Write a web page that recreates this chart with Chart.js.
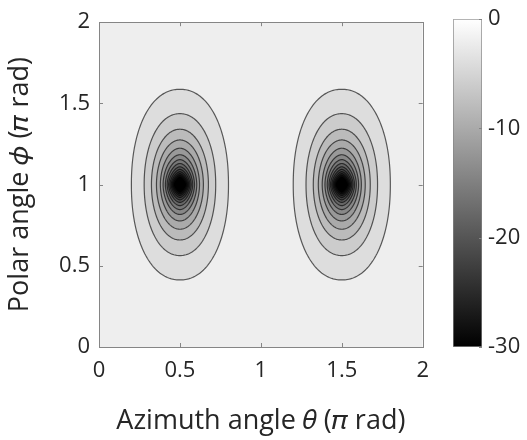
<!DOCTYPE html>
<html>
<head>
<meta charset="utf-8">
<script src="https://cdn.jsdelivr.net/npm/chart.js"></script>
<style>
  html, body { margin: 0; padding: 0; background: #fff; }
  #wrap { position: relative; width: 527px; height: 440px; }
  #main { position: absolute; left: 0; top: 0; }
  #cbar { position: absolute; left: 440px; top: 0; }
</style>
</head>
<body>
<div id="wrap">
  <canvas id="main" width="440" height="440"></canvas>
  <canvas id="cbar" width="87" height="440"></canvas>
</div>
<script>
// axis ticks (units of pi rad)
var thetaTicks = [0, 0.5, 1, 1.5, 2];
var phiTicks = [0, 0.5, 1, 1.5, 2];
var colorTicks = [0, -10, -20, -30];

// the two lobes (minimum positions)
var lobeTheta = [0.5, 1.5];
var lobePhi = 1;

// contour levels (dB) and their half extents
var levels = [-2, -4, -6, -8, -10, -12, -14, -16, -18, -20, -22, -24, -26, -28, -30];
var halfTheta = [0.300, 0.221, 0.176, 0.145, 0.121, 0.104, 0.090, 0.079, 0.070, 0.062, 0.055, 0.049, 0.043, 0.037, 0.030];
var halfPhi = [0.587, 0.437, 0.341, 0.275, 0.224, 0.184, 0.154, 0.130, 0.110, 0.094, 0.080, 0.068, 0.058, 0.048, 0.038];

var FONT = "'Open Sans', 'Noto Sans', 'DejaVu Sans', sans-serif";
var TXT = '#262626';
var FRAME = '#858585';

function grayOf(v) {
  var g = Math.round(255 * Math.max(0, Math.min(1, 1 + v / 30)));
  return 'rgb(' + g + ',' + g + ',' + g + ')';
}

var contourPlugin = {
  id: 'contours',
  beforeDatasetsDraw: function(chart) {
    var ctx = chart.ctx, a = chart.chartArea;
    var xs = chart.scales.x, ys = chart.scales.y;
    ctx.save();
    ctx.beginPath();
    ctx.rect(a.left, a.top, a.width, a.height);
    ctx.clip();
    ctx.fillStyle = grayOf(levels[0]);
    ctx.fillRect(a.left, a.top, a.width, a.height);
    lobeTheta.forEach(function(cx) {
      levels.forEach(function(lv, i) {
        var p = 2.15 - 0.8 * i / (levels.length - 1);
        ctx.beginPath();
        for (var k = 0; k <= 240; k++) {
          var t = k / 240 * 2 * Math.PI;
          var c = Math.cos(t), s = Math.sin(t);
          var ex = Math.sign(c) * Math.pow(Math.abs(c), 2 / p);
          var ey = Math.sign(s) * Math.pow(Math.abs(s), 2 / p);
          var px = xs.getPixelForValue(cx + halfTheta[i] * ex);
          var py = ys.getPixelForValue(lobePhi + halfPhi[i] * ey);
          if (k === 0) ctx.moveTo(px, py); else ctx.lineTo(px, py);
        }
        ctx.closePath();
        ctx.fillStyle = grayOf(i + 1 < levels.length ? levels[i + 1] : levels[i]);
        ctx.fill();
        ctx.strokeStyle = 'rgba(0,0,0,0.62)';
        ctx.lineWidth = 1.2;
        ctx.stroke();
      });
    });
    ctx.restore();
  },
  afterDraw: function(chart) {
    var ctx = chart.ctx, a = chart.chartArea;
    var xs = chart.scales.x, ys = chart.scales.y;
    ctx.save();
    ctx.strokeStyle = FRAME;
    ctx.lineWidth = 1;
    ctx.strokeRect(Math.round(a.left) + 0.5, Math.round(a.top) + 0.5, Math.round(a.width), Math.round(a.height));
    ctx.beginPath();
    thetaTicks.forEach(function(v) {
      var x = Math.round(xs.getPixelForValue(v)) + 0.5;
      ctx.moveTo(x, a.bottom); ctx.lineTo(x, a.bottom - 4);
      ctx.moveTo(x, a.top); ctx.lineTo(x, a.top + 4);
    });
    phiTicks.forEach(function(v) {
      var y = Math.round(ys.getPixelForValue(v)) + 0.5;
      ctx.moveTo(a.left, y); ctx.lineTo(a.left + 4, y);
      ctx.moveTo(a.right, y); ctx.lineTo(a.right - 4, y);
    });
    ctx.stroke();
    ctx.restore();
  }
};

function plainTick(v) { return String(v); }

new Chart(document.getElementById('main').getContext('2d'), {
  type: 'scatter',
  data: { datasets: [] },
  plugins: [contourPlugin],
  options: {
    responsive: false,
    animation: false,
    layout: { padding: { top: 13, right: 11, left: 0, bottom: 0 } },
    plugins: { legend: { display: false }, tooltip: { enabled: false } },
    scales: {
      x: {
        type: 'linear', min: 0, max: 2,
        afterBuildTicks: function(s) { s.ticks = thetaTicks.map(function(v) { return { value: v }; }); },
        afterFit: function(s) { s.height = 93; },
        grid: { display: false, drawTicks: false },
        border: { display: false },
        ticks: { color: TXT, padding: 11, maxRotation: 0, callback: plainTick, font: { family: FONT, size: 22 } },
        title: { display: true, text: 'Azimuth angle 𝜃 (𝜋 rad)', color: TXT, padding: { top: 0, bottom: 2 },
                 font: { family: FONT, size: 27 } }
      },
      y: {
        type: 'linear', min: 0, max: 2,
        afterBuildTicks: function(s) { s.ticks = phiTicks.map(function(v) { return { value: v }; }); },
        afterFit: function(s) { s.width = 99; },
        grid: { display: false, drawTicks: false },
        border: { display: false },
        ticks: { color: TXT, padding: 9, callback: plainTick, font: { family: FONT, size: 22 } },
        title: { display: true, text: 'Polar angle 𝜙 (𝜋 rad)', color: TXT, padding: { top: 4, bottom: 0 },
                 font: { family: FONT, size: 27 } }
      }
    }
  }
});

var cbarTicksPlugin = {
  id: 'cbarTicks',
  afterDraw: function(chart) {
    var ctx = chart.ctx, a = chart.chartArea, ys = chart.scales.y;
    ctx.save();
    ctx.strokeStyle = FRAME;
    ctx.lineWidth = 1;
    ctx.beginPath();
    colorTicks.forEach(function(v) {
      var y = Math.round(ys.getPixelForValue(v)) + 0.5;
      ctx.moveTo(a.right, y); ctx.lineTo(a.right - 3, y);
    });
    ctx.stroke();
    ctx.restore();
  }
};

new Chart(document.getElementById('cbar').getContext('2d'), {
  type: 'bar',
  data: {
    labels: ['dB'],
    datasets: [{
      data: [[colorTicks[colorTicks.length - 1], colorTicks[0]]],
      backgroundColor: function(c) {
        var a = c.chart.chartArea;
        if (!a) return '#888';
        var g = c.chart.ctx.createLinearGradient(0, a.bottom, 0, a.top);
        g.addColorStop(0, '#000');
        g.addColorStop(1, '#fff');
        return g;
      },
      borderColor: FRAME,
      borderWidth: 1,
      borderSkipped: false,
      barPercentage: 1,
      categoryPercentage: 1
    }]
  },
  plugins: [cbarTicksPlugin],
  options: {
    responsive: false,
    animation: false,
    layout: { padding: { top: 13, left: 13, right: 0, bottom: 93 } },
    plugins: { legend: { display: false }, tooltip: { enabled: false } },
    scales: {
      x: { display: false },
      y: {
        position: 'right', min: -30, max: 0,
        afterBuildTicks: function(s) { s.ticks = colorTicks.map(function(v) { return { value: v }; }); },
        afterFit: function(s) { s.width = 45; },
        grid: { display: false, drawTicks: false },
        border: { display: false },
        ticks: { color: TXT, padding: 6, font: { family: FONT, size: 22 } }
      }
    }
  }
});
</script>
</body>
</html>
